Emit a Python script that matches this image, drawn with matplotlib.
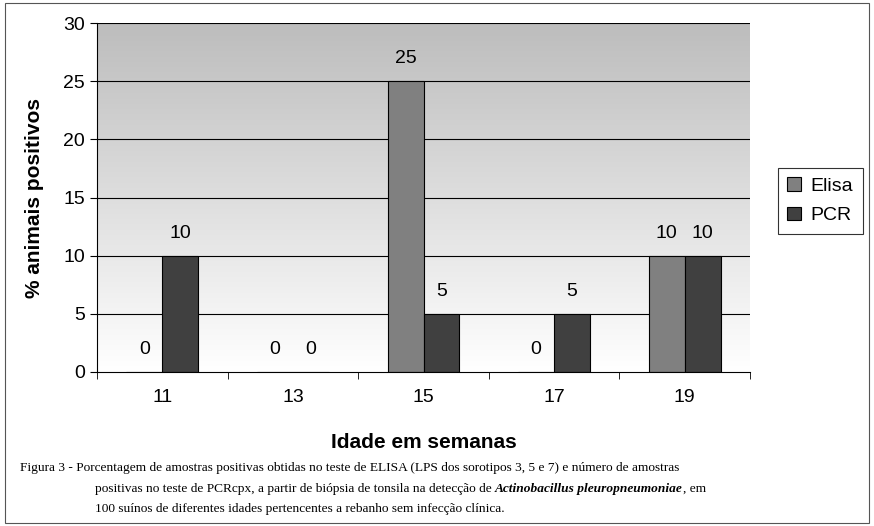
import numpy as np
import matplotlib.pyplot as plt
from matplotlib.patches import Rectangle

plt.rcParams["font.family"] = "Liberation Sans"

# data
AGES = ["11", "13", "15", "17", "19"]
ELISA = [0, 0, 25, 0, 10]
PCR = [10, 0, 5, 5, 10]
Y_TICKS = [0, 5, 10, 15, 20, 25, 30]

fig = plt.figure(figsize=(8.74, 5.26), dpi=100)
fig.patch.set_facecolor("white")
fig.add_artist(Rectangle((0.006, 0.006), 0.988, 0.988, transform=fig.transFigure,
                         fill=False, lw=0.8, ec="#555555"))

ax = fig.add_axes([97/874, 1-372/526, (750-97)/874, (372-23)/526])
x = np.arange(len(AGES))
w = 0.275

# gradient background
grad = np.linspace(0.74, 1.0, 256).reshape(-1, 1)
ax.imshow(np.dstack([grad]*3), extent=(-0.5, 4.5, 0, 30), aspect="auto",
          origin="upper", zorder=0, interpolation="bilinear")
for y in Y_TICKS[1:]:
    ax.axhline(y, color="black", lw=0.8, zorder=1)

ax.bar(x - w/2, ELISA, w, color="#808080", ec="black", lw=0.8, zorder=2, label="Elisa")
ax.bar(x + w/2, PCR, w, color="#404040", ec="black", lw=0.8, zorder=2, label="PCR")
for i in range(len(AGES)):
    ax.text(x[i] - w/2, ELISA[i] + 1.2, str(ELISA[i]), ha="center", va="bottom", fontsize=14)
    ax.text(x[i] + w/2, PCR[i] + 1.2, str(PCR[i]), ha="center", va="bottom", fontsize=14)

ax.set_xlim(-0.5, 4.5)
ax.set_ylim(0, 30)
ax.set_yticks(Y_TICKS)
ax.tick_params(axis="y", labelsize=14, length=5)
ax.set_xticks(x)
ax.set_xticklabels(AGES, fontsize=14)
ax.tick_params(axis="x", length=0, pad=12)
ax.set_xticks(np.arange(-0.5, 5, 1), minor=True)
ax.tick_params(axis="x", which="minor", length=5)
for s in ("top", "right"):
    ax.spines[s].set_visible(False)
ax.set_xlabel("Idade em semanas", fontsize=15, fontweight="bold", labelpad=20)
ax.set_ylabel("% animais positivos", fontsize=15, fontweight="bold", labelpad=14)

leg = fig.legend(loc="upper left", bbox_to_anchor=(768/874, 1-158/526), fontsize=14,
                 frameon=True, fancybox=False, edgecolor="black", handlelength=0.7,
                 handleheight=0.7, borderpad=0.5, labelspacing=0.6, handletextpad=0.5)
leg.get_frame().set_linewidth(0.8)

# caption
cap = dict(fontsize=9.6, family="Liberation Serif", va="baseline")
fig.text(20/874, 1-471/526,
         "Figura 3 - Porcentagem de amostras positivas obtidas no teste de ELISA (LPS dos sorotipos 3, 5 e 7) "
         "e número de amostras", **cap)
fig.canvas.draw()
r = fig.canvas.get_renderer()
xpos = 95/874
for txt, st in [("positivas no teste de PCRcpx, a partir de biópsia de tonsila na detecção de ", "normal"),
                ("Actinobacillus pleuropneumoniae", "italic"), (", em", "normal")]:
    t = fig.text(xpos, 1-492/526, txt, style=st, fontweight="bold" if st == "italic" else "normal", **cap)
    xpos += t.get_window_extent(r).width / 874
fig.text(95/874, 1-512/526, "100 suínos de diferentes idades pertencentes a rebanho sem infecção clínica.", **cap)

fig.savefig("out.png", dpi=100)
